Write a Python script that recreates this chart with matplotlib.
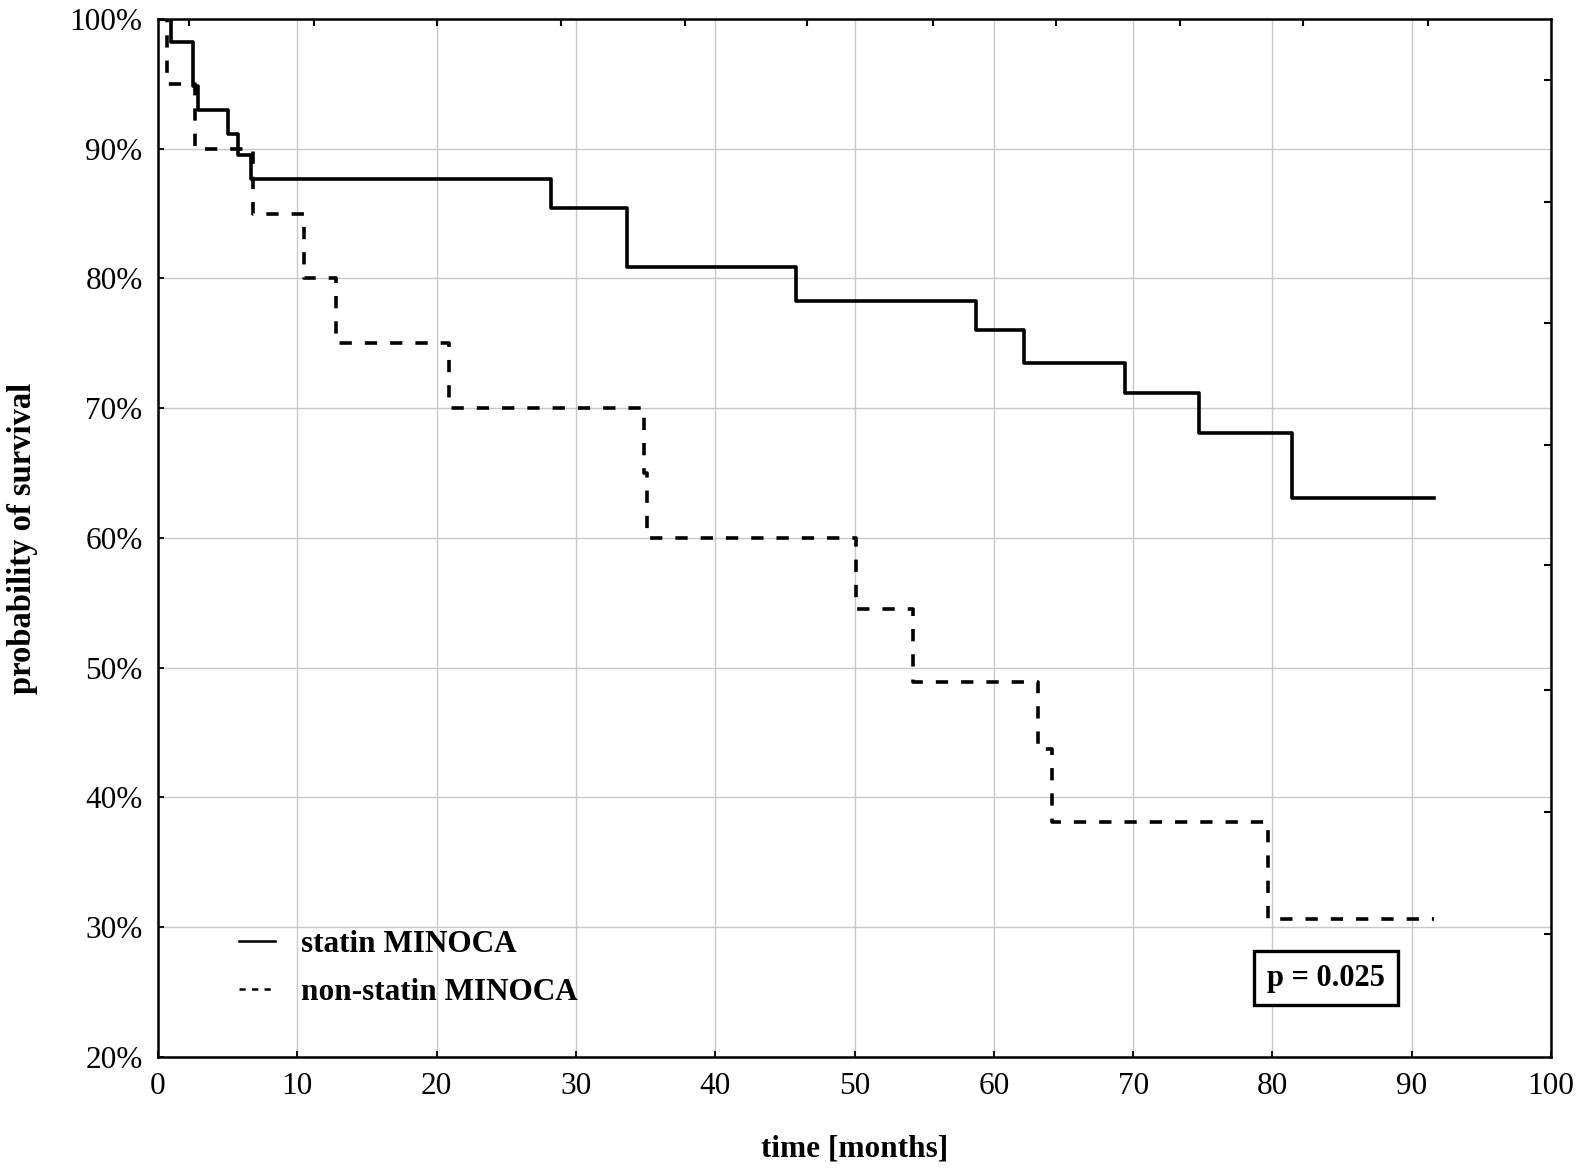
import matplotlib
matplotlib.use("Agg")
import matplotlib.pyplot as plt
from matplotlib.lines import Line2D

plt.rcParams['font.family'] = ['Liberation Serif', 'DejaVu Serif']

# Kaplan-Meier steps (time in months, survival in %)
statin_t = [0, 0.9, 2.5, 2.85, 5.0, 5.75, 6.7, 28.2, 33.7, 45.8, 58.7, 62.2, 69.4, 74.7, 81.4, 91.6]
statin_s = [100, 98.2, 94.8, 93.0, 91.1, 89.5, 87.7, 85.4, 80.9, 78.3, 76.0, 73.5, 71.2, 68.1, 63.1, 63.1]

nonstatin_t = [0, 0.65, 2.65, 6.8, 10.5, 12.8, 20.9, 34.9, 35.1, 50.1, 54.2, 63.2, 64.2, 79.7, 91.6]
nonstatin_s = [100, 95, 90, 85, 80, 75, 70, 65, 60, 54.5, 48.9, 43.7, 38.1, 30.6, 30.6]

x_ticks = list(range(0, 101, 10))
y_ticks = list(range(20, 101, 10))
y_labels = [f"{v}%" for v in y_ticks]
top_ticks = [2.2, 11.2, 20.0, 28.9, 37.8, 46.6, 55.6, 64.5, 73.4, 82.2, 91.2]
right_ticks = [95.3, 85.9, 76.6, 67.2, 57.9, 48.3, 38.9, 29.5]

fig = plt.figure(figsize=(15.83, 11.71), dpi=100)
ax = fig.add_axes([0.0998, 0.0974, 0.88, 0.8864])

ax.grid(True, color='#c8c8c8', linewidth=1.0)
ax.set_axisbelow(True)

ax.step(statin_t, statin_s, where='post', color='black', linewidth=2.6)
ax.step(nonstatin_t, nonstatin_s, where='post', color='black', linewidth=2.6,
        linestyle=(0, (3.4, 3.6)))

ax.set_xlim(0, 100)
ax.set_ylim(20, 100)
ax.set_xticks(x_ticks)
ax.set_yticks(y_ticks)
ax.set_yticklabels(y_labels)
ax.tick_params(direction='in', length=4, width=1.3, labelsize=22.5)
ax.tick_params(axis='x', pad=11)
ax.tick_params(axis='y', pad=11)
for sp in ax.spines.values():
    sp.set_linewidth(1.8)

ax.set_xlabel('time [months]', fontsize=22.5, fontweight='bold', labelpad=24)
ax.set_ylabel('probability of survival', fontsize=23.5, fontweight='bold', labelpad=23)

# extra tick marks on top and right edges
axt = ax.twiny()
axt.set_xlim(0, 100)
axt.set_xticks(top_ticks)
axt.tick_params(direction='in', length=5, width=1.5, labeltop=False)
axr = ax.twinx()
axr.set_ylim(20, 100)
axr.set_yticks(right_ticks)
axr.tick_params(direction='in', length=5, width=1.5, labelright=False)
for a in (axt, axr):
    for sp in a.spines.values():
        sp.set_visible(False)

handles = [Line2D([], [], color='black', linewidth=1.8),
           Line2D([], [], color='black', linewidth=1.8, linestyle=(0, (2.5, 2.5)))]
leg = ax.legend(handles, ['statin MINOCA', 'non-statin MINOCA'],
                loc='center left', bbox_to_anchor=(0.058, 0.085), frameon=False,
                handlelength=1.15, handletextpad=0.85, labelspacing=0.62,
                borderpad=0, borderaxespad=0,
                prop={'family': 'Liberation Serif', 'weight': 'bold', 'size': 22.5})

ax.text(0.8385, 0.076, 'p = 0.025', transform=ax.transAxes, ha='center', va='center',
        fontsize=22, fontweight='bold',
        bbox=dict(boxstyle='square,pad=0.42', facecolor='white', edgecolor='black',
                  linewidth=2.4))

fig.savefig('out.png', dpi=100)
